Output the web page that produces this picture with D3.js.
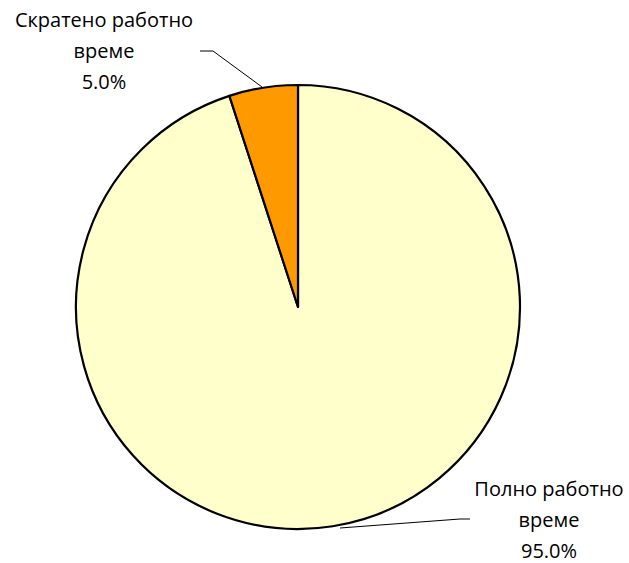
<!DOCTYPE html>
<html><head><meta charset="utf-8">
<script src="https://cdn.jsdelivr.net/npm/d3@7"></script>
<style>body{margin:0;background:#fff}</style>
</head><body>
<svg id="c" width="629" height="563"></svg>
<script>
const categories = ["Полно работно време", "Скратено работно време"];
const values = [95.0, 5.0];
const labelLines = [["Полно работно", "време", "95.0%"], ["Скратено работно", "време", "5.0%"]];
const colors = ["#FFFFCC", "#FF9900"];

const svg = d3.select("#c");
const cx = 298, cy = 307, r = 222;
const g = svg.append("g").attr("transform", `translate(${cx},${cy})`);
const pie = d3.pie().sort(null).value(d => d)(values);
const arc = d3.arc().innerRadius(0).outerRadius(r);
g.selectAll("path").data(pie).join("path")
  .attr("d", arc)
  .attr("fill", (d, i) => colors[i])
  .attr("stroke", "#000").attr("stroke-width", 2.2).attr("stroke-linejoin", "round");

// leader lines
const leaders = [
  [[470, 519], [460, 519], [340, 528]],
  [[200, 51], [213, 51], [262, 87]]
];
svg.selectAll("polyline.l").data(leaders).join("polyline")
  .attr("points", d => d.map(p => p.join(",")).join(" "))
  .attr("fill", "none").attr("stroke", "#000").attr("stroke-width", 1);

const labelPos = [[549, 489], [104, 20]];
const lh = 31;
labelLines.forEach((lines, i) => {
  const t = svg.append("text")
    .attr("font-family", "'Open Sans', sans-serif").attr("font-size", 20)
    .attr("fill", "#000").attr("text-anchor", "middle");
  lines.forEach((s, j) => {
    t.append("tspan").attr("x", labelPos[i][0]).attr("y", labelPos[i][1] + j * lh)
      .attr("dy", "0.35em").text(s);
  });
});
</script>
</body></html>
